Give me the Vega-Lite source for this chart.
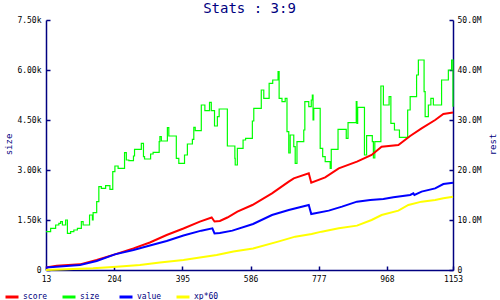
{
  "$schema": "https://vega.github.io/schema/vega-lite/v6.json",
  "width": 407,
  "height": 250,
  "autosize": "none",
  "padding": {"left": 46, "top": 20, "right": 47, "bottom": 30},
  "background": "white",
  "title": {"text": "Stats : 3:9", "font": "DejaVu Sans Mono", "fontSize": 14, "fontWeight": "normal", "color": "#000080", "anchor": "middle", "offset": 0},
  "config": {
    "view": {"stroke": null},
    "axis": {"labelFont": "DejaVu Sans Mono", "labelFontSize": 8, "labelColor": "#000000", "domainColor": "#000080", "tickColor": "#000080", "domainWidth": 1.5, "tickWidth": 1.5, "grid": false, "titleFont": "DejaVu Sans Mono", "titleFontSize": 9, "titleFontWeight": "normal", "titleColor": "#000080"},
    "legend": {"labelFont": "DejaVu Sans Mono", "labelFontSize": 8, "labelColor": "#000080"}
  },
  "data": {"values": [
    {"x":13,"s":"size","v":1150},{"x":26,"s":"size","v":1250},{"x":40,"s":"size","v":1350},{"x":49,"s":"size","v":1400},{"x":54,"s":"size","v":1450},{"x":59,"s":"size","v":1350},{"x":68,"s":"size","v":1500},{"x":73,"s":"size","v":1100},{"x":82,"s":"size","v":1150},{"x":91,"s":"size","v":1200},{"x":101,"s":"size","v":1250},{"x":112,"s":"size","v":1450},{"x":117,"s":"size","v":1350},{"x":135,"s":"size","v":1650},{"x":143,"s":"size","v":1500},{"x":145,"s":"size","v":1720},{"x":155,"s":"size","v":2050},{"x":161,"s":"size","v":2500},{"x":168,"s":"size","v":2450},{"x":180,"s":"size","v":2530},{"x":192,"s":"size","v":2420},{"x":200,"s":"size","v":2950},{"x":206,"s":"size","v":3120},{"x":215,"s":"size","v":3050},{"x":233,"s":"size","v":3520},{"x":238,"s":"size","v":3300},{"x":245,"s":"size","v":3280},{"x":258,"s":"size","v":3420},{"x":261,"s":"size","v":3620},{"x":280,"s":"size","v":3800},{"x":286,"s":"size","v":3400},{"x":289,"s":"size","v":3330},{"x":306,"s":"size","v":3480},{"x":313,"s":"size","v":3530},{"x":330,"s":"size","v":3850},{"x":332,"s":"size","v":4000},{"x":336,"s":"size","v":3870},{"x":353,"s":"size","v":4270},{"x":357,"s":"size","v":4020},{"x":378,"s":"size","v":3350},{"x":385,"s":"size","v":3200},{"x":401,"s":"size","v":3450},{"x":409,"s":"size","v":3780},{"x":423,"s":"size","v":3920},{"x":427,"s":"size","v":4280},{"x":431,"s":"size","v":4180},{"x":448,"s":"size","v":4950},{"x":458,"s":"size","v":4780},{"x":471,"s":"size","v":5030},{"x":476,"s":"size","v":4780},{"x":485,"s":"size","v":4320},{"x":493,"s":"size","v":4600},{"x":498,"s":"size","v":4830},{"x":521,"s":"size","v":3720},{"x":542,"s":"size","v":3350},{"x":543,"s":"size","v":3150},{"x":549,"s":"size","v":3650},{"x":565,"s":"size","v":3900},{"x":572,"s":"size","v":3950},{"x":591,"s":"size","v":4470},{"x":595,"s":"size","v":4850},{"x":616,"s":"size","v":5400},{"x":623,"s":"size","v":5150},{"x":638,"s":"size","v":5600},{"x":648,"s":"size","v":5700},{"x":663,"s":"size","v":5950},{"x":666,"s":"size","v":5150},{"x":674,"s":"size","v":5050},{"x":683,"s":"size","v":5150},{"x":688,"s":"size","v":4150},{"x":693,"s":"size","v":3510},{"x":697,"s":"size","v":4050},{"x":707,"s":"size","v":3700},{"x":711,"s":"size","v":3200},{"x":716,"s":"size","v":3850},{"x":735,"s":"size","v":4200},{"x":738,"s":"size","v":5050},{"x":749,"s":"size","v":4900},{"x":756,"s":"size","v":5100},{"x":759,"s":"size","v":5250},{"x":761,"s":"size","v":4500},{"x":763,"s":"size","v":4850},{"x":781,"s":"size","v":3650},{"x":788,"s":"size","v":3400},{"x":795,"s":"size","v":3250},{"x":809,"s":"size","v":3050},{"x":812,"s":"size","v":3620},{"x":831,"s":"size","v":4220},{"x":854,"s":"size","v":3950},{"x":859,"s":"size","v":4420},{"x":882,"s":"size","v":5050},{"x":884,"s":"size","v":4400},{"x":886,"s":"size","v":4880},{"x":905,"s":"size","v":3450},{"x":911,"s":"size","v":4030},{"x":927,"s":"size","v":3850},{"x":930,"s":"size","v":3360},{"x":934,"s":"size","v":3850},{"x":951,"s":"size","v":5520},{"x":958,"s":"size","v":4950},{"x":974,"s":"size","v":5200},{"x":979,"s":"size","v":4400},{"x":989,"s":"size","v":4200},{"x":1003,"s":"size","v":3980},{"x":1026,"s":"size","v":4800},{"x":1033,"s":"size","v":5200},{"x":1051,"s":"size","v":5850},{"x":1056,"s":"size","v":6300},{"x":1072,"s":"size","v":5350},{"x":1075,"s":"size","v":4600},{"x":1084,"s":"size","v":4950},{"x":1091,"s":"size","v":5150},{"x":1098,"s":"size","v":4950},{"x":1121,"s":"size","v":5700},{"x":1140,"s":"size","v":6000},{"x":1149,"s":"size","v":6300},{"x":1153,"s":"size","v":4900},
    {"x":13,"s":"score","v":0.5},{"x":43,"s":"score","v":0.87},{"x":108,"s":"score","v":1.13},{"x":155,"s":"score","v":2.0},{"x":206,"s":"score","v":3.13},{"x":258,"s":"score","v":4.33},{"x":304,"s":"score","v":5.5},{"x":351,"s":"score","v":7.0},{"x":398,"s":"score","v":8.3},{"x":444,"s":"score","v":9.67},{"x":477,"s":"score","v":10.5},{"x":485,"s":"score","v":9.7},{"x":500,"s":"score","v":9.8},{"x":521,"s":"score","v":10.5},{"x":549,"s":"score","v":11.67},{"x":591,"s":"score","v":13.0},{"x":646,"s":"score","v":15.33},{"x":693,"s":"score","v":17.67},{"x":707,"s":"score","v":18.33},{"x":749,"s":"score","v":19.33},{"x":756,"s":"score","v":17.47},{"x":795,"s":"score","v":18.53},{"x":833,"s":"score","v":20.33},{"x":884,"s":"score","v":21.67},{"x":925,"s":"score","v":23.0},{"x":953,"s":"score","v":24.67},{"x":1000,"s":"score","v":25.0},{"x":1033,"s":"score","v":26.8},{"x":1065,"s":"score","v":28.33},{"x":1103,"s":"score","v":30.0},{"x":1126,"s":"score","v":31.2},{"x":1153,"s":"score","v":31.5},
    {"x":13,"s":"value","v":0.5},{"x":108,"s":"value","v":1.0},{"x":155,"s":"value","v":1.8},{"x":206,"s":"value","v":3.13},{"x":258,"s":"value","v":4.0},{"x":304,"s":"value","v":4.9},{"x":351,"s":"value","v":5.8},{"x":398,"s":"value","v":6.9},{"x":448,"s":"value","v":7.87},{"x":479,"s":"value","v":8.33},{"x":485,"s":"value","v":7.3},{"x":500,"s":"value","v":7.4},{"x":535,"s":"value","v":7.87},{"x":593,"s":"value","v":9.2},{"x":646,"s":"value","v":11.0},{"x":693,"s":"value","v":12.0},{"x":749,"s":"value","v":13.0},{"x":756,"s":"value","v":11.2},{"x":805,"s":"value","v":11.87},{"x":842,"s":"value","v":12.67},{"x":884,"s":"value","v":13.67},{"x":921,"s":"value","v":14.0},{"x":958,"s":"value","v":14.2},{"x":986,"s":"value","v":14.53},{"x":1033,"s":"value","v":15.0},{"x":1042,"s":"value","v":15.33},{"x":1045,"s":"value","v":15.0},{"x":1065,"s":"value","v":15.67},{"x":1103,"s":"value","v":16.33},{"x":1126,"s":"value","v":17.2},{"x":1153,"s":"value","v":17.47},
    {"x":13,"s":"xp*60","v":0},{"x":71,"s":"xp*60","v":0.13},{"x":145,"s":"xp*60","v":0.33},{"x":211,"s":"xp*60","v":0.67},{"x":276,"s":"xp*60","v":1.0},{"x":332,"s":"xp*60","v":1.5},{"x":398,"s":"xp*60","v":2.0},{"x":444,"s":"xp*60","v":2.5},{"x":491,"s":"xp*60","v":3.0},{"x":538,"s":"xp*60","v":3.7},{"x":593,"s":"xp*60","v":4.3},{"x":663,"s":"xp*60","v":5.67},{"x":711,"s":"xp*60","v":6.67},{"x":757,"s":"xp*60","v":7.2},{"x":785,"s":"xp*60","v":7.67},{"x":833,"s":"xp*60","v":8.33},{"x":884,"s":"xp*60","v":8.87},{"x":925,"s":"xp*60","v":10.0},{"x":953,"s":"xp*60","v":11.0},{"x":1000,"s":"xp*60","v":11.87},{"x":1028,"s":"xp*60","v":13.0},{"x":1065,"s":"xp*60","v":13.67},{"x":1103,"s":"xp*60","v":14.0},{"x":1126,"s":"xp*60","v":14.33},{"x":1153,"s":"xp*60","v":14.67}
  ]},
  "encoding": {
    "x": {"field": "x", "type": "quantitative", "scale": {"domain": [13, 1153], "nice": false, "zero": false},
      "axis": {"title": null, "values": [13, 204, 395, 586, 777, 968, 1153], "format": "d", "tickSize": -4, "labelPadding": 9, "labelFlush": false}},
    "color": {"field": "s", "type": "nominal",
      "scale": {"domain": ["score", "size", "value", "xp*60"], "range": ["#ff0000", "#00ff00", "#0000ff", "#ffff00"]},
      "legend": {"title": null, "orient": "none", "legendX": -42, "legendY": 269, "direction": "horizontal", "columns": 4, "gridAlign": "all", "columnPadding": 8, "symbolType": "stroke", "symbolStrokeWidth": 3, "symbolSize": 169, "labelOffset": 3, "padding": 0}}
  },
  "layer": [
    {
      "transform": [{"filter": "datum.s == 'size'"}],
      "mark": {"type": "line", "interpolate": "step-after", "strokeWidth": 1.2},
      "encoding": {
        "y": {"field": "v", "type": "quantitative", "scale": {"domain": [0, 7500], "nice": false},
          "axis": {"orient": "left", "title": "size", "values": [0, 1500, 3000, 4500, 6000, 7500], "labelExpr": "datum.value == 0 ? '0' : format(datum.value / 1000, '.2f') + 'k'", "tickSize": -4, "labelPadding": 9, "labelFlush": false, "titleAngle": -90, "titleX": -38, "titleY": 124, "titleAlign": "center", "titleBaseline": "middle"}}
      }
    },
    {
      "transform": [{"filter": "datum.s != 'size'"}],
      "mark": {"type": "line", "strokeWidth": 2},
      "encoding": {
        "y": {"field": "v", "type": "quantitative", "scale": {"domain": [0, 50], "nice": false},
          "axis": {"orient": "right", "title": "rest", "values": [0, 10, 20, 30, 40, 50], "labelExpr": "datum.value == 0 ? '0' : format(datum.value, '.1f') + 'M'", "tickSize": -4, "labelPadding": 8, "labelFlush": false, "titleAngle": -90, "titleX": 39, "titleY": 124, "titleAlign": "center", "titleBaseline": "middle"}}
      }
    }
  ],
  "resolve": {"scale": {"y": "independent"}}
}
